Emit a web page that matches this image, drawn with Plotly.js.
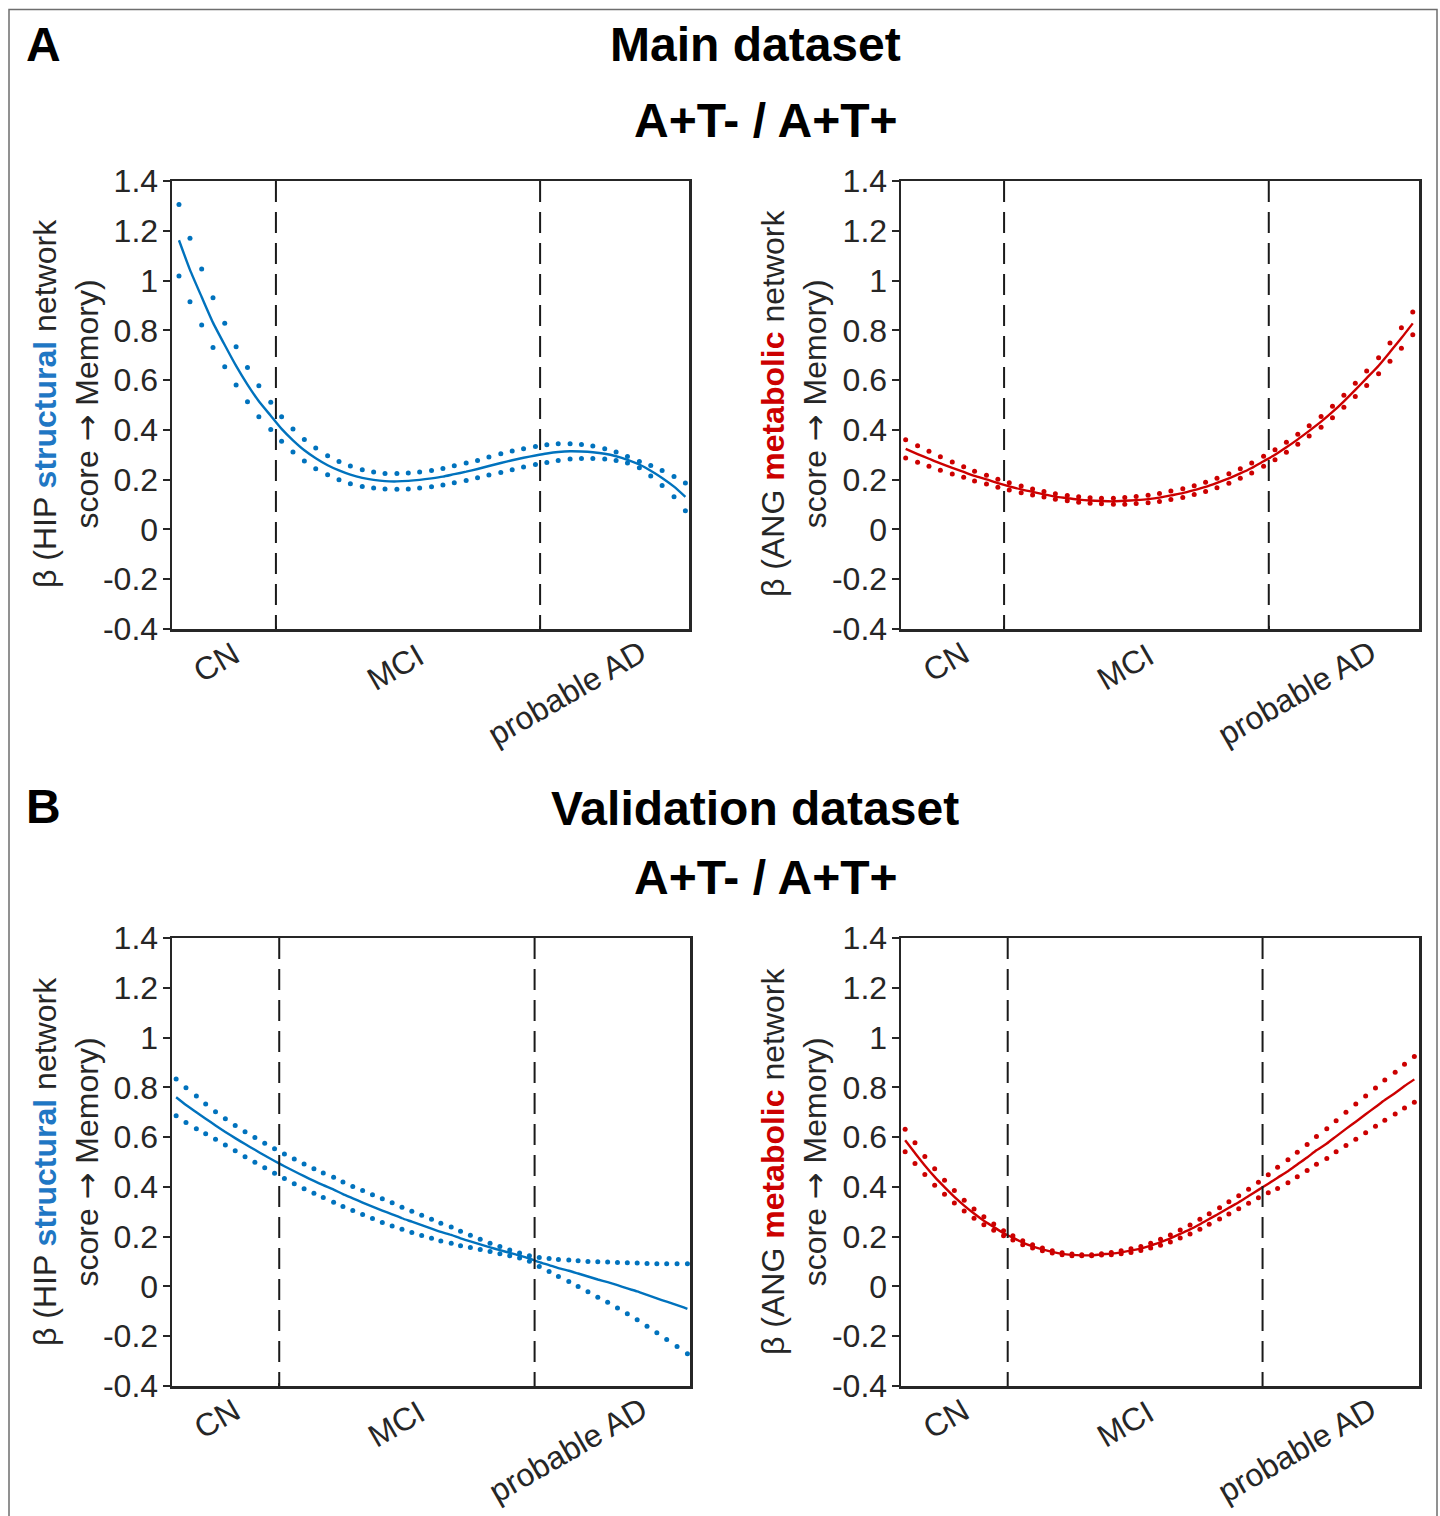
<!DOCTYPE html>
<html>
<head>
<meta charset="utf-8">
<script src="https://cdn.plot.ly/plotly-3.0.1.min.js"></script>
<style>html,body{margin:0;padding:0;background:#fff;}#chart{width:1440px;height:1516px;}</style>
</head>
<body>
<div id="chart"></div>
<script>
// ---------------- DATA ----------------
const stageLabels = ["CN", "MCI", "probable AD"];
const stageLabelPos = [8.6, 43.3, 76.4];
const yTickVals = [-0.4, -0.2, 0, 0.2, 0.4, 0.6, 0.8, 1, 1.2, 1.4];
const yTickText = ["-0.4", "-0.2", "0", "0.2", "0.4", "0.6", "0.8", "1", "1.2", "1.4"];

// Main dataset, HIP structural
const mainHipX = [1.35,3.48,5.74,7.93,10.2,12.4,14.6,16.8,19.1,21.2,23.4,25.6,27.8,30.1,32.3,34.5,36.8,39.0,41.2,43.5,45.7,47.9,50.2,52.4,54.6,56.9,59.1,61.3,63.6,65.8,68.0,70.3,72.5,74.7,77.0,79.2,81.4,83.7,85.9,88.1,90.4,92.6,94.8,97.1,99.3];
const mainHipBeta = [1.162,1.043,0.934,0.831,0.741,0.657,0.582,0.515,0.457,0.404,0.358,0.318,0.286,0.258,0.237,0.220,0.207,0.199,0.194,0.193,0.195,0.199,0.205,0.212,0.222,0.232,0.243,0.255,0.267,0.278,0.288,0.297,0.305,0.311,0.314,0.313,0.310,0.304,0.294,0.280,0.261,0.236,0.207,0.172,0.131];
const mainHipUpper = [1.306,1.170,1.046,0.931,0.828,0.734,0.651,0.577,0.511,0.453,0.404,0.361,0.327,0.296,0.273,0.255,0.240,0.231,0.225,0.225,0.227,0.231,0.237,0.245,0.256,0.267,0.277,0.291,0.304,0.315,0.324,0.333,0.340,0.344,0.344,0.341,0.335,0.324,0.311,0.293,0.273,0.257,0.237,0.213,0.187];
const mainHipLower = [1.018,0.915,0.821,0.731,0.654,0.580,0.513,0.453,0.402,0.354,0.311,0.275,0.244,0.220,0.200,0.184,0.173,0.167,0.163,0.161,0.163,0.167,0.172,0.179,0.188,0.197,0.208,0.219,0.229,0.240,0.251,0.261,0.269,0.277,0.283,0.285,0.285,0.283,0.277,0.267,0.248,0.215,0.177,0.131,0.075];
const mainHipCuts = [20.1, 71.2];

// Main dataset, ANG metabolic
const mainAngX = [0.9,3.2,5.4,7.6,9.9,12.1,14.2,16.5,18.7,20.9,23.2,25.4,27.6,29.8,32.1,34.3,36.5,38.7,41.0,43.2,45.4,47.7,49.9,52.1,54.4,56.6,58.8,61.0,63.3,65.5,67.7,70.0,72.2,74.4,76.6,78.8,81.1,83.3,85.5,87.7,89.9,92.2,94.4,96.6,98.8];
const mainAngBeta = [0.324,0.303,0.284,0.265,0.247,0.231,0.215,0.201,0.186,0.173,0.161,0.151,0.141,0.132,0.126,0.120,0.116,0.114,0.113,0.115,0.118,0.122,0.128,0.137,0.146,0.158,0.171,0.187,0.205,0.225,0.247,0.274,0.300,0.330,0.362,0.396,0.433,0.472,0.515,0.561,0.608,0.658,0.713,0.769,0.828];
const mainAngUpper = [0.360,0.336,0.314,0.292,0.271,0.252,0.234,0.218,0.202,0.188,0.175,0.163,0.152,0.143,0.136,0.131,0.127,0.125,0.125,0.128,0.132,0.137,0.144,0.154,0.164,0.176,0.190,0.206,0.224,0.244,0.267,0.294,0.320,0.350,0.382,0.417,0.454,0.495,0.539,0.587,0.637,0.690,0.749,0.810,0.874];
const mainAngLower = [0.287,0.270,0.254,0.238,0.223,0.210,0.195,0.183,0.170,0.158,0.147,0.138,0.130,0.121,0.115,0.109,0.105,0.103,0.101,0.101,0.104,0.107,0.112,0.120,0.128,0.140,0.152,0.168,0.186,0.206,0.227,0.254,0.280,0.310,0.342,0.375,0.411,0.449,0.491,0.534,0.578,0.626,0.676,0.728,0.782];
const mainAngCuts = [19.9, 71.0];

// Validation dataset, HIP structural
const valHipX = [0.8,2.7,4.7,6.5,8.4,10.3,12.2,14.1,16.0,17.9,19.8,21.7,23.6,25.5,27.4,29.2,31.2,33.0,34.9,36.8,38.7,40.6,42.5,44.4,46.3,48.2,50.1,51.9,53.9,55.7,57.6,59.5,61.4,63.3,65.2,67.1,69.0,70.9,72.8,74.6,76.6,78.4,80.3,82.2,84.1,86.0,87.9,89.8,91.7,93.6,95.5,97.5,99.5];
const valHipBeta = [0.760,0.729,0.700,0.674,0.647,0.621,0.596,0.572,0.549,0.526,0.504,0.483,0.463,0.443,0.424,0.407,0.389,0.371,0.354,0.337,0.321,0.305,0.290,0.274,0.260,0.246,0.232,0.219,0.207,0.193,0.181,0.169,0.157,0.146,0.135,0.124,0.112,0.098,0.086,0.074,0.063,0.052,0.040,0.028,0.017,0.005,-0.008,-0.020,-0.034,-0.048,-0.061,-0.075,-0.090];
const valHipUpper = [0.833,0.798,0.765,0.733,0.702,0.674,0.647,0.622,0.598,0.575,0.553,0.532,0.512,0.492,0.473,0.456,0.439,0.420,0.402,0.385,0.368,0.352,0.336,0.318,0.302,0.286,0.270,0.254,0.239,0.222,0.206,0.190,0.174,0.160,0.146,0.134,0.123,0.116,0.112,0.108,0.106,0.103,0.100,0.099,0.098,0.096,0.095,0.094,0.092,0.091,0.091,0.091,0.091];
const valHipLower = [0.686,0.659,0.634,0.614,0.591,0.568,0.545,0.521,0.499,0.477,0.455,0.434,0.413,0.393,0.374,0.357,0.338,0.321,0.305,0.289,0.273,0.257,0.243,0.230,0.217,0.205,0.194,0.183,0.174,0.164,0.156,0.148,0.140,0.131,0.123,0.114,0.101,0.080,0.060,0.040,0.020,0.000,-0.021,-0.043,-0.064,-0.087,-0.110,-0.134,-0.160,-0.186,-0.213,-0.241,-0.270];
const valHipCuts = [20.7, 70.0];

// Validation dataset, ANG metabolic
const valAngX = [0.8,2.7,4.6,6.5,8.4,10.3,12.2,14.1,16.0,17.9,19.8,21.6,23.5,25.4,27.3,29.2,31.1,33.0,34.9,36.8,38.7,40.6,42.5,44.4,46.3,48.2,50.1,52.0,53.9,55.8,57.7,59.5,61.5,63.3,65.2,67.1,69.0,70.9,72.7,74.7,76.5,78.4,80.2,82.2,84.0,85.9,87.8,89.7,91.6,93.4,95.4,97.2,99.1];
const valAngBeta = [0.587,0.536,0.486,0.440,0.399,0.360,0.325,0.293,0.264,0.239,0.214,0.196,0.176,0.161,0.149,0.139,0.131,0.127,0.125,0.125,0.129,0.132,0.137,0.144,0.152,0.164,0.178,0.193,0.211,0.229,0.250,0.271,0.294,0.316,0.338,0.363,0.388,0.413,0.437,0.463,0.490,0.518,0.547,0.574,0.603,0.633,0.662,0.692,0.721,0.749,0.777,0.805,0.832];
const valAngUpper = [0.632,0.577,0.522,0.473,0.427,0.385,0.346,0.311,0.280,0.251,0.224,0.204,0.184,0.168,0.154,0.143,0.135,0.130,0.127,0.127,0.131,0.136,0.143,0.151,0.160,0.174,0.190,0.207,0.227,0.247,0.270,0.292,0.316,0.340,0.364,0.391,0.419,0.449,0.479,0.509,0.539,0.570,0.602,0.634,0.666,0.700,0.733,0.765,0.797,0.829,0.861,0.893,0.924];
const valAngLower = [0.541,0.494,0.450,0.407,0.370,0.335,0.303,0.274,0.248,0.226,0.204,0.187,0.168,0.154,0.143,0.134,0.127,0.123,0.123,0.123,0.126,0.127,0.131,0.136,0.144,0.154,0.166,0.179,0.195,0.211,0.230,0.250,0.271,0.291,0.312,0.334,0.356,0.376,0.394,0.417,0.441,0.466,0.491,0.514,0.541,0.566,0.591,0.618,0.644,0.668,0.693,0.717,0.740];
const valAngCuts = [20.6, 69.8];

// ---------------- STYLE / LAYOUT ----------------
const W = 1440, H = 1516;
const px = v => v / W;
const py = v => 1 - v / H;
const BLUE = '#0072BD', RED = '#CC0000';
const BLUE_TXT = '#1f77c4', RED_TXT = '#cc0000';
const AX = '#262626';
const FONT = '"Liberation Sans", Arial, Helvetica, sans-serif';
const TICK_SIZE = 32, LABEL_SIZE = 32, AXTITLE_SIZE = 32, HEAD_SIZE = 48;

const panels = [
  {x: mainHipX, b: mainHipBeta, u: mainHipUpper, l: mainHipLower, cuts: mainHipCuts, col: BLUE,
   xd: [px(172), px(689)], yd: [py(629), py(181)], net: 'HIP', word: 'structural', wcol: BLUE_TXT, titleX: 66, titleY: 404},
  {x: mainAngX, b: mainAngBeta, u: mainAngUpper, l: mainAngLower, cuts: mainAngCuts, col: RED,
   xd: [px(901), px(1419)], yd: [py(629), py(181)], net: 'ANG', word: 'metabolic', wcol: RED_TXT, titleX: 794, titleY: 403},
  {x: valHipX, b: valHipBeta, u: valHipUpper, l: valHipLower, cuts: valHipCuts, col: BLUE,
   xd: [px(172), px(690)], yd: [py(1386), py(938)], net: 'HIP', word: 'structural', wcol: BLUE_TXT, titleX: 66, titleY: 1162},
  {x: valAngX, b: valAngBeta, u: valAngUpper, l: valAngLower, cuts: valAngCuts, col: RED,
   xd: [px(901), px(1419)], yd: [py(1386), py(938)], net: 'ANG', word: 'metabolic', wcol: RED_TXT, titleX: 794, titleY: 1161}
];

const data = [];
const layout = {
  width: W, height: H,
  margin: {l: 0, r: 0, t: 0, b: 0},
  paper_bgcolor: '#ffffff', plot_bgcolor: '#ffffff',
  showlegend: false,
  font: {family: FONT, color: AX, size: 30},
  shapes: [], annotations: []
};

const labelOffsets = [33, 38, 64]; // px below axis for stage labels

panels.forEach((p, i) => {
  const n = i + 1;
  const xa = 'x' + (n === 1 ? '' : n), ya = 'y' + (n === 1 ? '' : n);
  const xk = 'xaxis' + (n === 1 ? '' : n), yk = 'yaxis' + (n === 1 ? '' : n);
  data.push({x: p.x, y: p.u, xaxis: xa, yaxis: ya, type: 'scatter', mode: 'markers',
             marker: {color: p.col, size: 5}, hoverinfo: 'skip'});
  data.push({x: p.x, y: p.l, xaxis: xa, yaxis: ya, type: 'scatter', mode: 'markers',
             marker: {color: p.col, size: 5}, hoverinfo: 'skip'});
  data.push({x: p.x, y: p.b, xaxis: xa, yaxis: ya, type: 'scatter', mode: 'lines',
             line: {color: p.col, width: 2.4, shape: 'spline', smoothing: 0.6}, hoverinfo: 'skip'});
  layout[xk] = {
    domain: p.xd, anchor: ya, range: [0, 100], fixedrange: true,
    showgrid: false, zeroline: false, showline: true, mirror: true,
    linecolor: AX, linewidth: 2.5,
    ticks: 'inside', tickvals: p.cuts, ticklen: 3, tickwidth: 1.5, tickcolor: AX,
    showticklabels: false
  };
  layout[yk] = {
    domain: p.yd, anchor: xa, range: [-0.4, 1.4], fixedrange: true,
    showgrid: false, zeroline: false, showline: true, mirror: true,
    linecolor: AX, linewidth: 2.5,
    ticks: 'outside', ticklen: 7, tickwidth: 2, tickcolor: AX,
    tickvals: yTickVals, ticktext: yTickText, ticklabelstandoff: -2,
    tickfont: {family: FONT, size: TICK_SIZE, color: AX}
  };
  p.cuts.forEach(c => {
    layout.shapes.push({type: 'line', xref: xa, yref: ya + ' domain', x0: c, x1: c, y0: 1, y1: 0,
      layer: 'above', line: {color: '#1a1a1a', width: 2, dash: '21px,10px'}});
  });
  const axisH = (p.yd[1] - p.yd[0]) * H;
  stageLabels.forEach((s, k) => {
    layout.annotations.push({text: s, xref: xa, yref: ya + ' domain', x: stageLabelPos[k],
      y: -labelOffsets[k] / axisH, xanchor: 'center', yanchor: 'middle', textangle: -30,
      showarrow: false, font: {family: FONT, size: LABEL_SIZE, color: AX}});
  });
  layout.annotations.push({
    text: 'β (' + p.net + ' <b><span style="color:' + p.wcol + '">' + p.word + '</span></b> network<br>score <span style="font-family:DejaVu Sans">→</span> Memory)',
    xref: 'paper', yref: 'paper', x: px(p.titleX), y: py(p.titleY), xanchor: 'center', yanchor: 'middle',
    textangle: -90, showarrow: false, align: 'center', font: {family: FONT, size: AXTITLE_SIZE, color: AX}
  });
});

// Panel headings
const headings = [
  {t: '<b>A</b>', x: 24, y: 45, a: 'left'},
  {t: '<b>Main dataset</b>', x: 755, y: 45, a: 'center'},
  {t: '<b>A+T- / A+T+</b>', x: 766, y: 120, a: 'center'},
  {t: '<b>B</b>', x: 24, y: 806, a: 'left'},
  {t: '<b>Validation dataset</b>', x: 755, y: 808, a: 'center'},
  {t: '<b>A+T- / A+T+</b>', x: 766, y: 877, a: 'center'}
];
headings.forEach(h => {
  layout.annotations.push({text: h.t, xref: 'paper', yref: 'paper', x: px(h.x), y: py(h.y),
    xanchor: h.a, yanchor: 'middle', showarrow: false, font: {family: FONT, size: HEAD_SIZE, color: '#000'}});
});

// Outer frame
layout.shapes.push({type: 'rect', xref: 'paper', yref: 'paper', x0: px(9), x1: px(1437), y0: -0.01, y1: py(9.5),
  layer: 'below', line: {color: '#6e6e6e', width: 1.5}, fillcolor: 'rgba(0,0,0,0)'});

Plotly.newPlot('chart', data, layout, {staticPlot: true, displayModeBar: false});
</script>
</body>
</html>
